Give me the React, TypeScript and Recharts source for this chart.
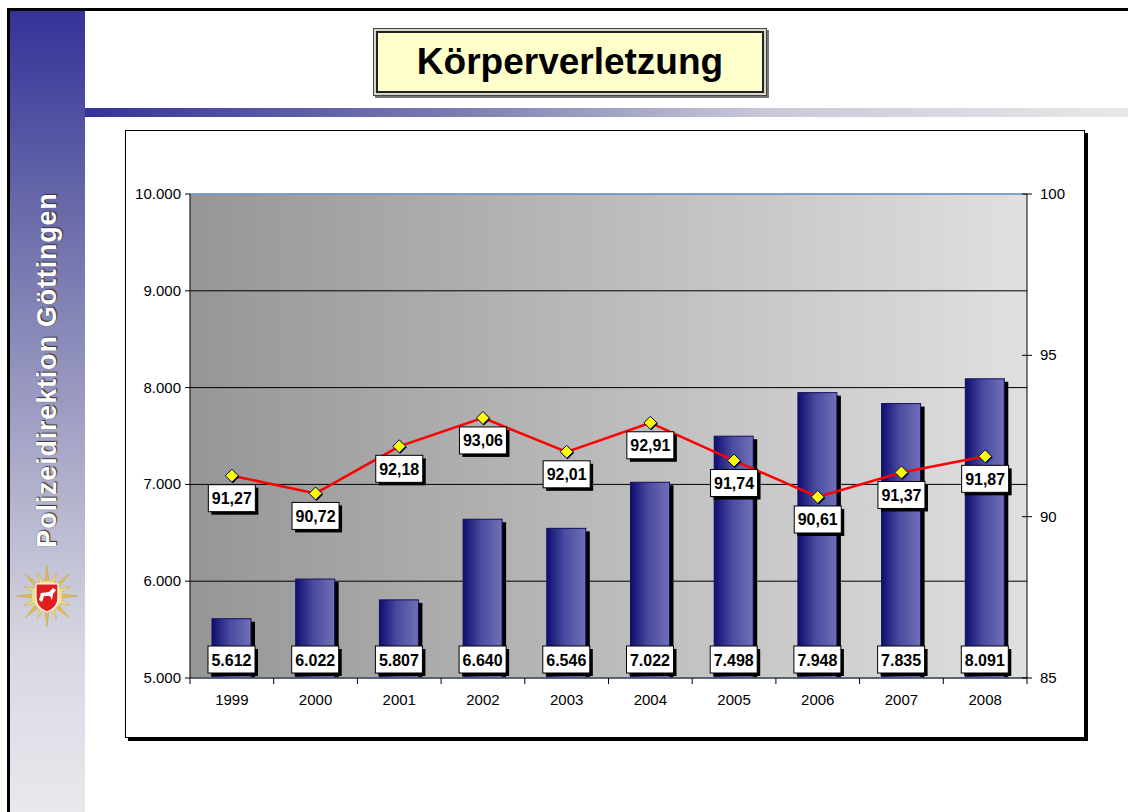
import React from 'react';
import {
  ComposedChart, Bar, Line, XAxis, YAxis, CartesianGrid, LabelList, ReferenceLine,
} from 'recharts';

const years = ['1999', '2000', '2001', '2002', '2003', '2004', '2005', '2006', '2007', '2008'];
const cases = [5612, 6022, 5807, 6640, 6546, 7022, 7498, 7948, 7835, 8091];
const clearance = [91.27, 90.72, 92.18, 93.06, 92.01, 92.91, 91.74, 90.61, 91.37, 91.87];
const leftTicks = [5000, 6000, 7000, 8000, 9000, 10000];
const rightTicks = [85, 90, 95, 100];
const title = 'Körperverletzung';
const sidebarText = 'Polizeidirektion Göttingen';

const data = years.map((y, i) => ({ year: y, cases: cases[i], rate: clearance[i] }));

const FONT = '"Liberation Sans", Arial, Helvetica, sans-serif';

const fmtThousands = (v: number) => String(v).replace(/\B(?=(\d{3})+(?!\d))/g, '.');
const fmtComma = (v: number) => v.toFixed(2).replace('.', ',');

const BarShape = (props: any) => {
  const { x, y, width, height } = props;
  if (height == null || height <= 0) return null;
  return (
    <g>
      <rect x={x + 4} y={y + 3} width={width} height={height - 3} fill="#000" />
      <rect x={x} y={y} width={width} height={height} fill="url(#barGrad)" stroke="#10105a" strokeWidth={1} />
    </g>
  );
};

const BoxLabel = ({ cx, top, text }: { cx: number; top: number; text: string }) => {
  const w = 47;
  const h = 27;
  return (
    <g>
      <rect x={cx - w / 2 + 3} y={top + 3} width={w} height={h} fill="#000" />
      <rect x={cx - w / 2} y={top} width={w} height={h} fill="#fff" stroke="#000" strokeWidth={1} />
      <text x={cx} y={top + h / 2 + 6} textAnchor="middle" fontFamily={FONT} fontWeight="bold" fontSize={16} fill="#000">
        {text}
      </text>
    </g>
  );
};

const BarLabel = (props: any) => {
  const { x, y, width, height, value } = props;
  const cx = x + width / 2;
  const base = y + height;
  return <BoxLabel cx={cx} top={base - 32} text={fmtThousands(value)} />;
};

const LineLabel = (props: any) => {
  const { x, y, value } = props;
  return <BoxLabel cx={x} top={y + 9} text={fmtComma(value)} />;
};

const Diamond = (props: any) => {
  const { cx, cy } = props;
  if (cx == null || cy == null) return null;
  const r = 6.5;
  return (
    <g>
      <polygon points={`${cx + 1},${cy - r + 1} ${cx + r + 1},${cy + 1} ${cx + 1},${cy + r + 1} ${cx - r + 1},${cy + 1}`} fill="#000040" />
      <polygon points={`${cx},${cy - r} ${cx + r},${cy} ${cx},${cy + r} ${cx - r},${cy}`} fill="#ffff00" stroke="#000060" strokeWidth={1} />
    </g>
  );
};

const XTick = (props: any) => {
  const { x, y, payload, index } = props;
  const off = payload && payload.offset ? payload.offset : 41.85;
  return (
    <g>
      <line x1={x - off} y1={y} x2={x - off} y2={y + 6} stroke="#000" strokeWidth={1} />
      {index === years.length - 1 && (
        <line x1={x + off} y1={y} x2={x + off} y2={y + 6} stroke="#000" strokeWidth={1} />
      )}
      <text x={x} y={y + 27} textAnchor="middle" fontFamily={FONT} fontSize={15} fill="#000">
        {payload.value}
      </text>
    </g>
  );
};

const LeftTick = (props: any) => {
  const { x, y, payload } = props;
  return (
    <g>
      <line x1={x - 5} y1={y} x2={x} y2={y} stroke="#000" strokeWidth={1} />
      <text x={x - 9} y={y + 5} textAnchor="end" fontFamily={FONT} fontSize={15} fill="#000">
        {fmtThousands(payload.value)}
      </text>
    </g>
  );
};

const RightTick = (props: any) => {
  const { x, y, payload } = props;
  return (
    <g>
      <line x1={x - 5} y1={y} x2={x + 5} y2={y} stroke="#000" strokeWidth={1} />
      <text x={x + 13} y={y + 5} textAnchor="start" fontFamily={FONT} fontSize={15} fill="#000">
        {payload.value}
      </text>
    </g>
  );
};

const Emblem = () => {
  const rays: React.ReactNode[] = [];
  const n = 16;
  const cx = 35, cy = 35;
  for (let i = 0; i < n; i++) {
    const a = (i / n) * Math.PI * 2;
    const long = i % 2 === 0 ? 31 : 25;
    const tip = [cx + Math.cos(a) * long, cy + Math.sin(a) * long];
    const l = [cx + Math.cos(a + 0.2) * 12, cy + Math.sin(a + 0.2) * 12];
    const r = [cx + Math.cos(a - 0.2) * 12, cy + Math.sin(a - 0.2) * 12];
    rays.push(
      <polygon key={i} points={`${l[0]},${l[1]} ${tip[0]},${tip[1]} ${r[0]},${r[1]} ${cx},${cy}`} fill={i % 2 === 0 ? '#dcbc55' : '#f0dc85'} stroke="#c9a43a" strokeWidth={0.5} />
    );
  }
  return (
    <svg width={70} height={70} style={{ position: 'absolute', left: 12, top: 561 }}>
      {rays}
      <circle cx={cx} cy={cy} r={15} fill="#f3e08e" />
      <path d="M24,23 L46,23 L46,37 Q46,47 35,51 Q24,47 24,37 Z" fill="#e02020" stroke="#fff" strokeWidth={1.2} />
      <path d="M27,39 L29,32 L37,31 L41,27 L44,29 L41,33 L40,39 L38,35 L32,35 L30,41 Z" fill="#fff" />
    </svg>
  );
};

export default function App() {
  return (
    <div style={{ position: 'absolute', left: 0, top: 0, width: 1128, height: 812, overflow: 'hidden', background: '#fff', fontFamily: FONT }}>
      <div style={{ position: 'absolute', left: 7, top: 8, width: 1300, height: 1000, border: '3px solid #000', boxSizing: 'border-box' }} />
      <div style={{ position: 'absolute', left: 10, top: 11, width: 75, height: 801, background: 'linear-gradient(to bottom, #333399 0%, #6a6aaa 25%, #a8a8c8 55%, #d8d8e2 80%, #e8e8ee 100%)' }} />
      <div style={{ position: 'absolute', left: 47, top: 370, width: 0, height: 0 }}>
        <div style={{ position: 'absolute', left: 0, top: 0, transform: 'translate(-50%, -50%) rotate(-90deg)', whiteSpace: 'nowrap', color: '#fff', fontWeight: 'bold', fontSize: 27, letterSpacing: 0.8, textShadow: '1px 1px 1px #333, 0 0 1px #555' }}>
          {sidebarText}
        </div>
      </div>
      <Emblem />
      <div style={{ position: 'absolute', left: 85, top: 108, width: 1043, height: 9, background: 'linear-gradient(to right, #333399 0%, #7a7ab0 35%, #c8c8d8 65%, #e8e8e8 100%)' }} />
      <div style={{ position: 'absolute', left: 373, top: 28, width: 394, height: 68, boxSizing: 'border-box', border: '1px solid #444', background: '#d8d8c8', padding: 2, boxShadow: '2px 2px 0 #777' }}>
        <div style={{ width: '100%', height: '100%', boxSizing: 'border-box', border: '2px solid #222', background: '#ffffcc', display: 'flex', alignItems: 'center', justifyContent: 'center', fontWeight: 'bold', fontSize: 37, color: '#000' }}>
          {title}
        </div>
      </div>
      <div style={{ position: 'absolute', left: 125, top: 130, width: 960, height: 608, boxSizing: 'border-box', border: '1px solid #000', background: '#fff', boxShadow: '3px 3px 0 #000' }}>
        <div style={{ position: 'absolute', left: -1, top: -1 }}>
          <ComposedChart width={960} height={608} data={data} margin={{ top: 64, right: 0, bottom: 0, left: 0 }} barCategoryGap="26%">
            <defs>
              <linearGradient id="plotBg" x1="0" y1="0" x2="1" y2="0">
                <stop offset="0%" stopColor="#969696" />
                <stop offset="100%" stopColor="#e0e0e0" />
              </linearGradient>
              <linearGradient id="barGrad" x1="0" y1="0" x2="1" y2="0">
                <stop offset="0%" stopColor="#0e0e70" />
                <stop offset="45%" stopColor="#4a4aa0" />
                <stop offset="100%" stopColor="#7070b8" />
              </linearGradient>
            </defs>
            <CartesianGrid yAxisId="left" vertical={false} stroke="#000" strokeWidth={1} fill="url(#plotBg)" fillOpacity={1} />
            <XAxis dataKey="year" height={60} tickLine={false} tickSize={0} tickMargin={0} axisLine={{ stroke: '#556070', strokeWidth: 1.5 }} tick={<XTick />} interval={0} />
            <YAxis yAxisId="left" width={65} domain={[5000, 10000]} ticks={leftTicks} tickSize={0} tickMargin={0} tickLine={false} axisLine={{ stroke: '#000' }} tick={<LeftTick />} allowDataOverflow />
            <YAxis yAxisId="right" orientation="right" width={58} domain={[85, 100]} ticks={rightTicks} tickSize={0} tickMargin={0} tickLine={false} axisLine={{ stroke: '#000' }} tick={<RightTick />} allowDataOverflow />
            <ReferenceLine yAxisId="left" y={10000} stroke="#7fb0e8" strokeWidth={1.5} />
            <Bar yAxisId="left" dataKey="cases" barSize={39} shape={<BarShape />} isAnimationActive={false}>
              <LabelList dataKey="cases" content={<BarLabel />} />
            </Bar>
            <Line yAxisId="right" dataKey="rate" type="linear" stroke="#ff0000" strokeWidth={2.5} dot={<Diamond />} activeDot={false} isAnimationActive={false}>
              <LabelList dataKey="rate" content={<LineLabel />} />
            </Line>
          </ComposedChart>
        </div>
      </div>
    </div>
  );
}
